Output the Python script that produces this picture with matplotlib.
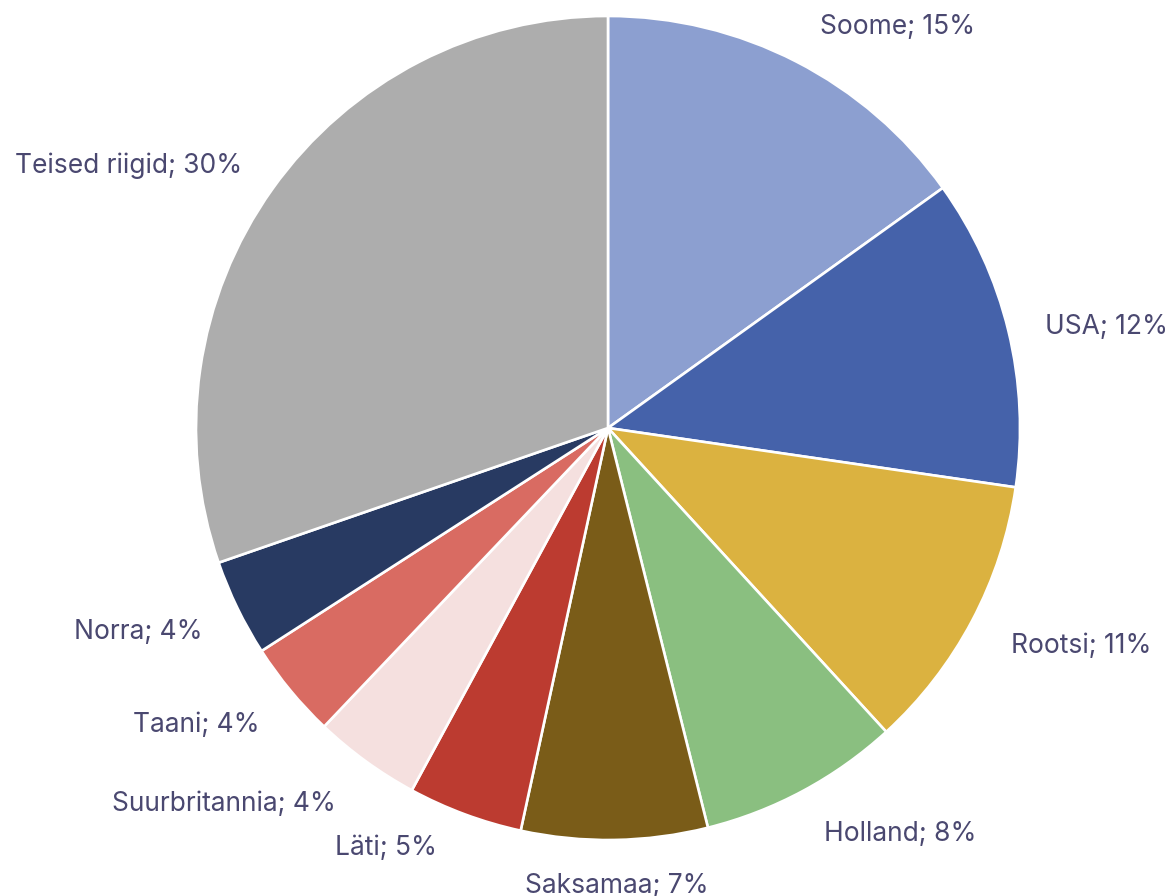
import matplotlib
matplotlib.use("Agg")
import matplotlib.pyplot as plt

categories = ["Soome", "USA", "Rootsi", "Holland", "Saksamaa", "Läti",
              "Suurbritannia", "Taani", "Norra", "Teised riigid"]
shares = [15.1, 12.2, 10.9, 7.9, 7.3, 4.5, 4.2, 3.8, 3.8, 30.3]
shown_pct = [15, 12, 11, 8, 7, 5, 4, 4, 4, 30]
colors = ["#8C9FD0", "#4562AA", "#DBB240", "#8ABF80", "#7A5C18", "#BC3B30",
          "#F5E0DF", "#D96B62", "#283A62", "#ADADAD"]

# label centres in radius units (layout)
label_pos = [(0.703, 0.981), (1.209, 0.253), (1.148, -0.523), (0.710, -0.978),
             (0.022, -1.105), (-0.540, -1.012), (-0.932, -0.905), (-0.999, -0.713),
             (-1.139, -0.487), (-1.163, 0.645)]

W, H = 1174, 896
cx, cy, R = 608, 428, 412

fig = plt.figure(figsize=(W / 100, H / 100), dpi=100)
ax = fig.add_axes([0, 0, 1, 1])
ax.pie(shares, colors=colors, startangle=90, counterclock=False,
       wedgeprops=dict(edgecolor="white", linewidth=1.9))
ax.set_xlim(-cx / R, (W - cx) / R)
ax.set_ylim(-(H - cy) / R, cy / R)
ax.set_aspect("equal", adjustable="box")
ax.axis("off")

for cat, p, (x, y) in zip(categories, shown_pct, label_pos):
    ax.text(x, y, f"{cat}; {p}%", ha="center", va="center_baseline",
            fontsize=19, color="#4A4870", family=["Inter", "DejaVu Sans"])

fig.savefig("out.png", dpi=100, facecolor="white")
